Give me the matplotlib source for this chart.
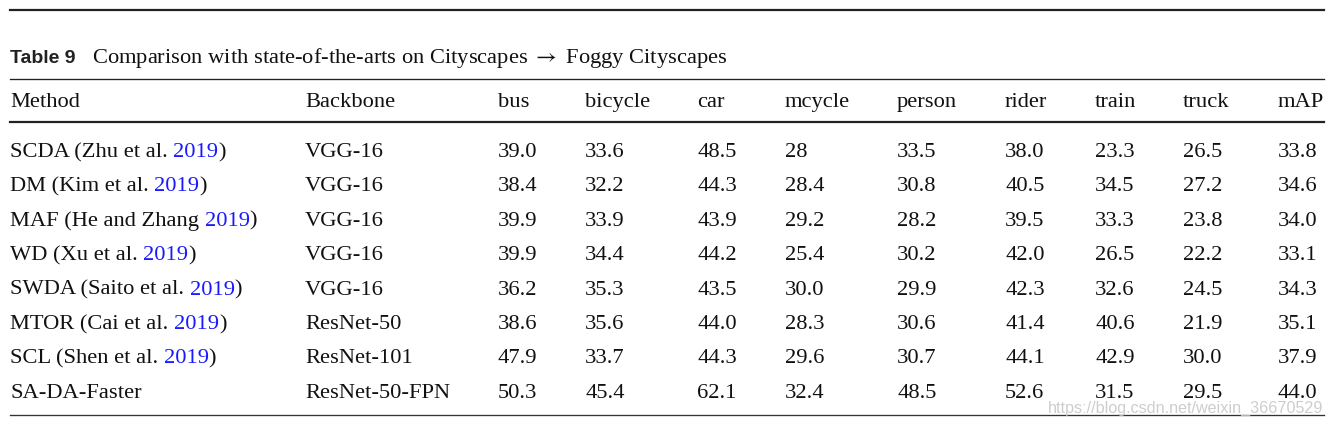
import matplotlib.pyplot as plt

plt.rcParams["mathtext.fontset"] = "stix"

# table content
methods = ["SCDA (Zhu et al. ", "DM (Kim et al. ", "MAF (He and Zhang ", "WD (Xu et al. ",
           "SWDA (Saito et al. ", "MTOR (Cai et al. ", "SCL (Shen et al. ", "SA-DA-Faster"]
years = ["2019", "2019", "2019", "2019", "2019", "2019", "2019", ""]
backbones = ["VGG-16", "VGG-16", "VGG-16", "VGG-16", "VGG-16",
             "ResNet-50", "ResNet-101", "ResNet-50-FPN"]
classes = ["bus", "bicycle", "car", "mcycle", "person", "rider", "train", "truck", "mAP"]
bus = ["39.0", "38.4", "39.9", "39.9", "36.2", "38.6", "47.9", "50.3"]
bicycle = ["33.6", "32.2", "33.9", "34.4", "35.3", "35.6", "33.7", "45.4"]
car = ["48.5", "44.3", "43.9", "44.2", "43.5", "44.0", "44.3", "62.1"]
mcycle = ["28", "28.4", "29.2", "25.4", "30.0", "28.3", "29.6", "32.4"]
person = ["33.5", "30.8", "28.2", "30.2", "29.9", "30.6", "30.7", "48.5"]
rider = ["38.0", "40.5", "39.5", "42.0", "42.3", "41.4", "44.1", "52.6"]
train = ["23.3", "34.5", "33.3", "26.5", "32.6", "40.6", "42.9", "31.5"]
truck = ["26.5", "27.2", "23.8", "22.2", "24.5", "21.9", "30.0", "29.5"]
mAP = ["33.8", "34.6", "34.0", "33.1", "34.3", "35.1", "37.9", "44.0"]
values = [bus, bicycle, car, mcycle, person, rider, train, truck, mAP]

serif = "Liberation Serif"
fs = 16.2
blue = "#1a1aff"
ink = "#111111"

fig = plt.figure(figsize=(13.33, 4.28), dpi=100)
ax = fig.add_axes([0, 0, 1, 1])
ax.set_xlim(0, 1333)
ax.set_ylim(428, 0)
ax.axis("off")

# rules
x0, x1 = 10, 1324
ax.plot([x0, x1], [9.5, 9.5], color="#222222", lw=1.6)
ax.plot([x0, x1], [79, 79], color="#222222", lw=0.95)
ax.plot([x0, x1], [121.5, 121.5], color="#222222", lw=1.6)
ax.plot([x0, x1], [415, 415], color="#333333", lw=0.95)

fig.canvas.draw()
renderer = fig.canvas.get_renderer()
inv = ax.transData.inverted()


def right_edge(t):
    bb = t.get_window_extent(renderer)
    return inv.transform((bb.x1, bb.y0))[0]


# caption
ax.text(10, 63, "Table 9", family="Liberation Sans", weight="bold", fontsize=14,
        color="#222222", va="baseline")
ax.text(92, 63, r"Comparison with state-of-the-arts on Cityscapes $\rightarrow$ Foggy Cityscapes",
        family=serif, fontsize=fs, color=ink, va="baseline")

col_x = [498, 585, 697, 785, 897, 1005, 1095, 1183, 1278]
head_y = 106.5
ax.text(10, head_y, "Method", family=serif, fontsize=fs, va="baseline", color=ink)
ax.text(305, head_y, "Backbone", family=serif, fontsize=fs, va="baseline", color=ink)
for cx, name in zip(col_x, classes):
    ax.text(cx, head_y, name, family=serif, fontsize=fs, va="baseline", color=ink)

row_y0, row_dy = 157, 34.4
for i in range(len(methods)):
    y = row_y0 + i * row_dy
    t = ax.text(10, y, methods[i], family=serif, fontsize=fs, va="baseline", color=ink)
    if years[i]:
        t2 = ax.text(right_edge(t), y, years[i], family=serif, fontsize=fs,
                     va="baseline", color=blue)
        ax.text(right_edge(t2), y, ")", family=serif, fontsize=fs, va="baseline", color=ink)
    ax.text(305, y, backbones[i], family=serif, fontsize=fs, va="baseline", color=ink)
    for cx, col in zip(col_x, values):
        ax.text(cx, y, col[i], family=serif, fontsize=fs, va="baseline", color=ink)

# watermark
ax.text(1323, 413, "https://blog.csdn.net/weixin_36670529", family="Liberation Sans",
        fontsize=11.6, color="#c8c8c8", ha="right", va="baseline", alpha=0.9)

fig.savefig("out.png", dpi=100)
